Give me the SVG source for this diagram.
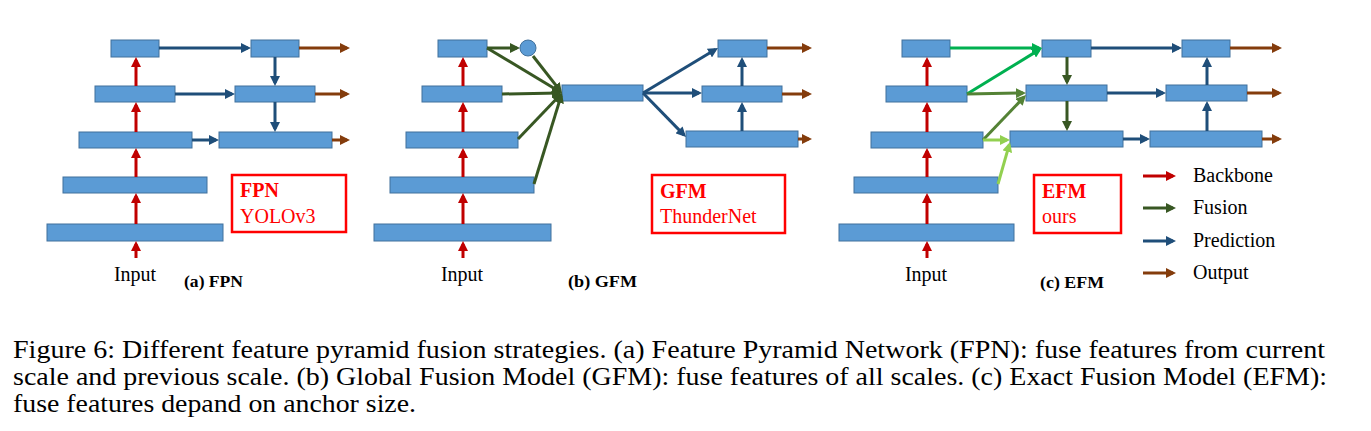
<svg xmlns="http://www.w3.org/2000/svg" width="1371" height="431" viewBox="0 0 1371 431">
<style>
.box{fill:#5b9bd5;stroke:#41719c;stroke-width:1}
.a{fill:none;stroke-width:3;stroke-linecap:butt}
.red{stroke:#c00000;marker-end:url(#mRed)}
.blu{stroke:#1f4e79;marker-end:url(#mBlu)}
.brn{stroke:#843c0c;marker-end:url(#mBrn)}
.grn{stroke:#385723;marker-end:url(#mGrn)}
.gbr{stroke:#00b050;marker-end:url(#mGbr)}
.gmd{stroke:#548235;marker-end:url(#mGmd)}
.glt{stroke:#92d050;marker-end:url(#mGlt)}
.t{font-family:"Liberation Serif","Times New Roman",serif;fill:#000}
.lbl{font-size:20px}
.sub{font-size:16px;font-weight:bold}
.cap{font-size:25px}
.rb{fill:none;stroke:#ff0000;stroke-width:2.5}
.rt{font-family:"Liberation Serif","Times New Roman",serif;fill:#ff0000;font-size:20px}
.rtb{font-weight:bold}
</style>
<defs>
<marker id="mRed" viewBox="0 0 10 10" refX="7" refY="5" markerWidth="10" markerHeight="10" markerUnits="userSpaceOnUse" orient="auto"><path d="M0,0L10,5L0,10z" fill="#c00000"/></marker>
<marker id="mBlu" viewBox="0 0 10 10" refX="7" refY="5" markerWidth="10" markerHeight="10" markerUnits="userSpaceOnUse" orient="auto"><path d="M0,0L10,5L0,10z" fill="#1f4e79"/></marker>
<marker id="mBrn" viewBox="0 0 10 10" refX="7" refY="5" markerWidth="10" markerHeight="10" markerUnits="userSpaceOnUse" orient="auto"><path d="M0,0L10,5L0,10z" fill="#843c0c"/></marker>
<marker id="mGrn" viewBox="0 0 10 10" refX="7" refY="5" markerWidth="10" markerHeight="10" markerUnits="userSpaceOnUse" orient="auto"><path d="M0,0L10,5L0,10z" fill="#385723"/></marker>
<marker id="mGbr" viewBox="0 0 10 10" refX="7" refY="5" markerWidth="10" markerHeight="10" markerUnits="userSpaceOnUse" orient="auto"><path d="M0,0L10,5L0,10z" fill="#00b050"/></marker>
<marker id="mGmd" viewBox="0 0 10 10" refX="7" refY="5" markerWidth="10" markerHeight="10" markerUnits="userSpaceOnUse" orient="auto"><path d="M0,0L10,5L0,10z" fill="#548235"/></marker>
<marker id="mGlt" viewBox="0 0 10 10" refX="7" refY="5" markerWidth="10" markerHeight="10" markerUnits="userSpaceOnUse" orient="auto"><path d="M0,0L10,5L0,10z" fill="#92d050"/></marker>
</defs>

<!-- (a) FPN -->
<g id="fpn-nodes">
<rect class="box" x="111" y="40" width="48" height="17"/>
<rect class="box" x="95" y="86" width="80" height="16"/>
<rect class="box" x="79" y="132" width="113" height="16"/>
<rect class="box" x="63" y="177" width="144" height="16"/>
<rect class="box" x="47" y="224" width="176" height="17"/>
<rect class="box" x="251" y="40" width="48" height="17"/>
<rect class="box" x="235" y="86" width="80" height="16"/>
<rect class="box" x="219" y="132" width="113" height="16"/>
</g>
<g id="fpn-label">
<rect class="rb" x="232" y="175" width="114" height="57"/>
<text class="rt rtb" x="240" y="197">FPN</text>
<text class="rt" x="240" y="223">YOLOv3</text>
</g>
<g id="fpn-texts">
<text class="t lbl" x="135" y="281" text-anchor="middle">Input</text>
<text class="t sub" x="184" y="287" textLength="59" lengthAdjust="spacingAndGlyphs">(a) FPN</text>
</g>

<!-- (b) GFM -->
<g id="gfm-nodes">
<rect class="box" x="438" y="40" width="49" height="17"/>
<rect class="box" x="422" y="86" width="80" height="16"/>
<rect class="box" x="406" y="132" width="112" height="16"/>
<rect class="box" x="390" y="177" width="144" height="16"/>
<rect class="box" x="374" y="224" width="177" height="17"/>
<circle class="box" cx="528" cy="48" r="8"/>
<rect class="box" x="562" y="85" width="81" height="16"/>
<rect class="box" x="718" y="40" width="49" height="17"/>
<rect class="box" x="702" y="86" width="80" height="16"/>
<rect class="box" x="686" y="131" width="112" height="16"/>
</g>
<g id="gfm-label">
<rect class="rb" x="652" y="175" width="133" height="58"/>
<text class="rt rtb" x="660" y="198">GFM</text>
<text class="rt" x="660" y="223">ThunderNet</text>
</g>
<g id="gfm-texts">
<text class="t lbl" x="462" y="281" text-anchor="middle">Input</text>
<text class="t sub" x="568" y="287" textLength="69" lengthAdjust="spacingAndGlyphs">(b) GFM</text>
</g>

<!-- (c) EFM -->
<g id="efm-nodes">
<rect class="box" x="902" y="40" width="48" height="17"/>
<rect class="box" x="886" y="86" width="81" height="16"/>
<rect class="box" x="871" y="132" width="112" height="16"/>
<rect class="box" x="854" y="177" width="144" height="16"/>
<rect class="box" x="839" y="224" width="175" height="17"/>
<rect class="box" x="1042" y="40" width="49" height="17"/>
<rect class="box" x="1026" y="85" width="81" height="16"/>
<rect class="box" x="1010" y="131" width="113" height="16"/>
<rect class="box" x="1182" y="40" width="48" height="17"/>
<rect class="box" x="1166" y="85" width="81" height="16"/>
<rect class="box" x="1150" y="131" width="112" height="16"/>
</g>
<g id="efm-label">
<rect class="rb" x="1034" y="175" width="87" height="58"/>
<text class="rt rtb" x="1042" y="198">EFM</text>
<text class="rt" x="1042" y="223">ours</text>
</g>
<g id="efm-texts">
<text class="t lbl" x="926" y="281" text-anchor="middle">Input</text>
<text class="t sub" x="1040" y="288" textLength="64" lengthAdjust="spacingAndGlyphs">(c) EFM</text>
</g>

<!-- connectors -->
<g id="connectors">
<!-- (a) -->
<line class="a red" x1="136" y1="258" x2="136" y2="244"/>
<line class="a red" x1="136" y1="224" x2="136" y2="196"/>
<line class="a red" x1="136" y1="177" x2="136" y2="151"/>
<line class="a red" x1="136" y1="132" x2="136" y2="105"/>
<line class="a red" x1="136" y1="86" x2="136" y2="60"/>
<line class="a blu" x1="159" y1="48" x2="248" y2="48"/>
<line class="a blu" x1="175" y1="94" x2="232" y2="94"/>
<line class="a blu" x1="192" y1="140" x2="216" y2="140"/>
<line class="a blu" x1="275" y1="57" x2="275" y2="83"/>
<line class="a blu" x1="275" y1="102" x2="275" y2="129"/>
<line class="a brn" x1="299" y1="48" x2="347" y2="48"/>
<line class="a brn" x1="315" y1="94" x2="347" y2="94"/>
<line class="a brn" x1="332" y1="140" x2="347" y2="140"/>
<!-- (b) -->
<line class="a red" x1="463" y1="258" x2="463" y2="244"/>
<line class="a red" x1="463" y1="224" x2="463" y2="196"/>
<line class="a red" x1="463" y1="177" x2="463" y2="151"/>
<line class="a red" x1="463" y1="132" x2="463" y2="105"/>
<line class="a red" x1="463" y1="86" x2="463" y2="60"/>
<line class="a grn" x1="487" y1="48" x2="517" y2="48"/>
<line class="a grn" x1="487" y1="48" x2="559.4" y2="91.5"/>
<line class="a grn" x1="533" y1="56" x2="560.1" y2="90.6"/>
<line class="a grn" x1="502" y1="94" x2="559" y2="93"/>
<line class="a grn" x1="518" y1="139" x2="559.9" y2="95.2"/>
<line class="a grn" x1="534" y1="184" x2="561.1" y2="95.9"/>
<line class="a blu" x1="643" y1="93" x2="715.4" y2="49.5"/>
<line class="a blu" x1="643" y1="93" x2="699" y2="93"/>
<line class="a blu" x1="643" y1="93" x2="683.9" y2="134.9"/>
<line class="a blu" x1="742" y1="131" x2="742" y2="105"/>
<line class="a blu" x1="742" y1="86" x2="742" y2="60"/>
<line class="a brn" x1="767" y1="48" x2="809" y2="48"/>
<line class="a brn" x1="782" y1="94" x2="809" y2="94"/>
<line class="a brn" x1="798" y1="139" x2="809" y2="139"/>
<!-- (c) -->
<line class="a red" x1="927" y1="258" x2="927" y2="244"/>
<line class="a red" x1="927" y1="224" x2="927" y2="196"/>
<line class="a red" x1="927" y1="177" x2="927" y2="151"/>
<line class="a red" x1="927" y1="132" x2="927" y2="105"/>
<line class="a red" x1="927" y1="86" x2="927" y2="60"/>
<line class="a gbr" x1="950" y1="48" x2="1039" y2="48"/>
<line class="a gbr" x1="967" y1="94" x2="1039.4" y2="49.6"/>
<line class="a gmd" x1="967" y1="94" x2="1023" y2="93"/>
<line class="a gmd" x1="983" y1="140" x2="1023.9" y2="97.2"/>
<line class="a glt" x1="983" y1="140" x2="1007" y2="140"/>
<line class="a glt" x1="998" y1="184" x2="1009.2" y2="144.9"/>
<line class="a grn" x1="1067" y1="57" x2="1067" y2="82"/>
<line class="a grn" x1="1067" y1="101" x2="1067" y2="128"/>
<line class="a blu" x1="1091" y1="48" x2="1179" y2="48"/>
<line class="a blu" x1="1107" y1="93" x2="1163" y2="93"/>
<line class="a blu" x1="1123" y1="139" x2="1147" y2="139"/>
<line class="a blu" x1="1207" y1="131" x2="1207" y2="104"/>
<line class="a blu" x1="1207" y1="85" x2="1207" y2="60"/>
<line class="a brn" x1="1230" y1="48" x2="1279" y2="48"/>
<line class="a brn" x1="1247" y1="93" x2="1279" y2="93"/>
<line class="a brn" x1="1262" y1="139" x2="1279" y2="139"/>
</g>

<!-- legend -->
<g id="legend">
<line class="a red" x1="1143" y1="176" x2="1173" y2="176"/>
<line class="a grn" x1="1143" y1="208" x2="1173" y2="208"/>
<line class="a blu" x1="1143" y1="241" x2="1173" y2="241"/>
<line class="a brn" x1="1143" y1="273" x2="1173" y2="273"/>
<text class="t lbl" x="1193" y="182">Backbone</text>
<text class="t lbl" x="1193" y="214">Fusion</text>
<text class="t lbl" x="1193" y="247">Prediction</text>
<text class="t lbl" x="1193" y="279">Output</text>
</g>

<!-- caption -->
<g id="caption">
<text class="t cap" x="13" y="358" textLength="1312" lengthAdjust="spacingAndGlyphs">Figure 6: Different feature pyramid fusion strategies. (a) Feature Pyramid Network (FPN): fuse features from current</text>
<text class="t cap" x="13" y="385" textLength="1314" lengthAdjust="spacingAndGlyphs">scale and previous scale. (b) Global Fusion Model (GFM): fuse features of all scales. (c) Exact Fusion Model (EFM):</text>
<text class="t cap" x="13" y="412" textLength="403" lengthAdjust="spacingAndGlyphs">fuse features depand on anchor size.</text>
</g>
</svg>
